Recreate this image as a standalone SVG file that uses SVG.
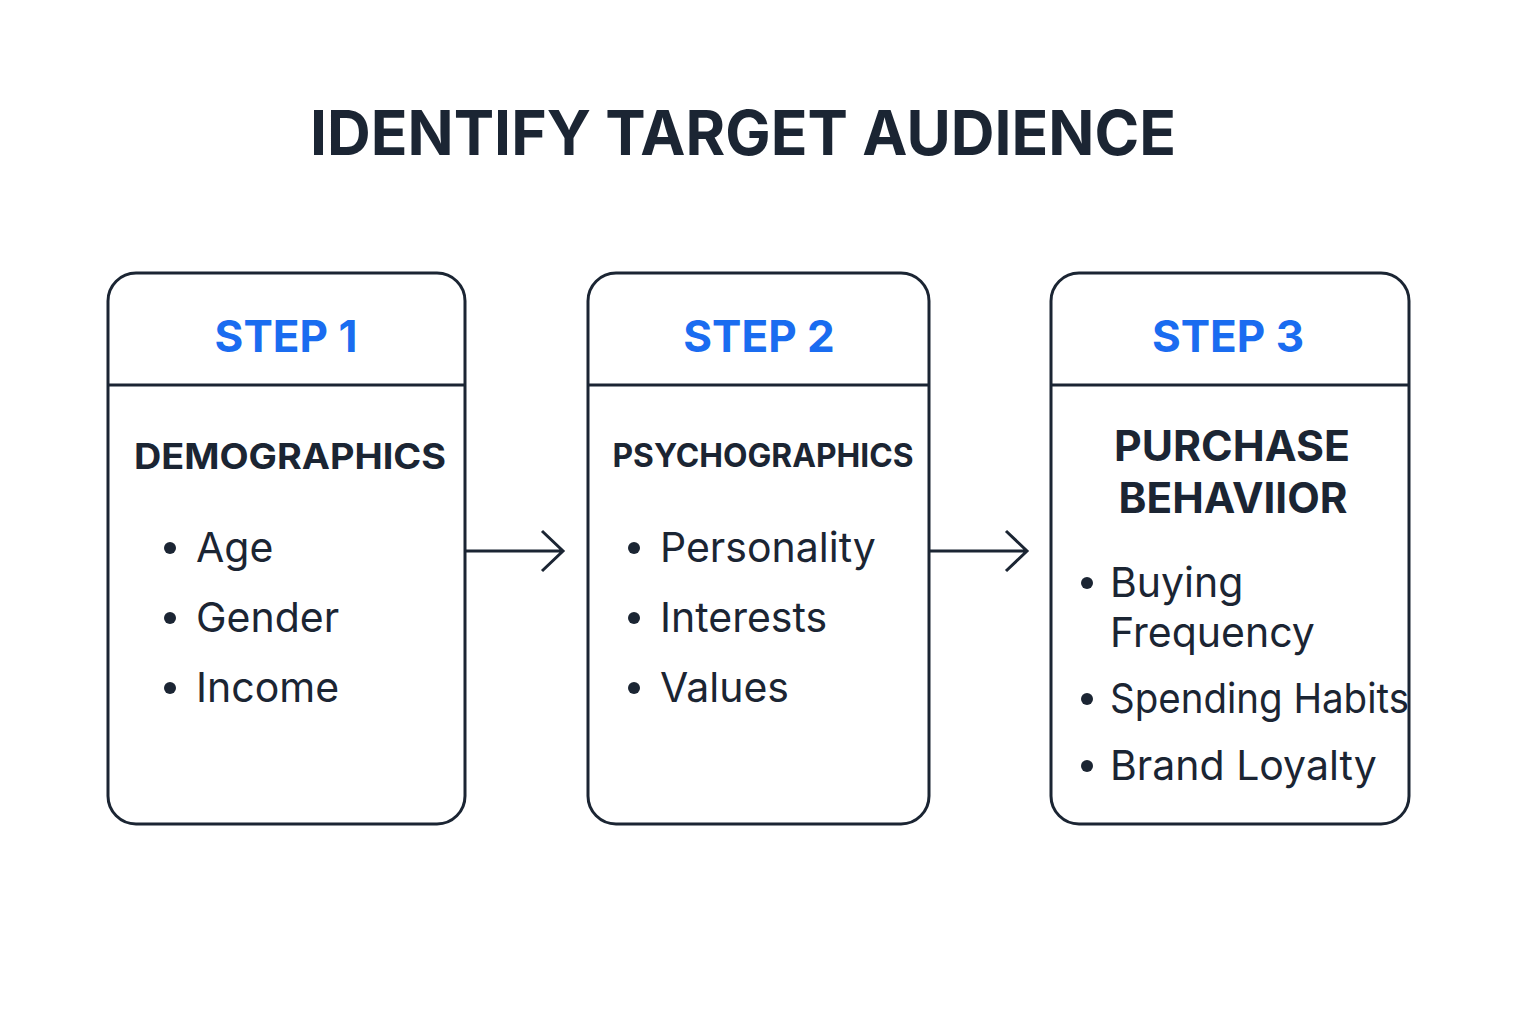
<svg xmlns="http://www.w3.org/2000/svg" width="1536" height="1024" viewBox="0 0 1536 1024">
<style>
.box{fill:#fff;stroke:#1b2533;stroke-width:3}
.div{stroke:#1b2533;stroke-width:3}
.title{font-family:Inter,"Liberation Sans",sans-serif;font-weight:700;fill:#1b2533}
.step{font-family:Inter,"Liberation Sans",sans-serif;font-weight:700;fill:#1a6cf0;font-size:44px}
.head{font-family:Inter,"Liberation Sans",sans-serif;font-weight:700;fill:#1b2533}
.item{font-family:Inter,"Liberation Sans",sans-serif;font-weight:400;fill:#1b2533;font-size:41px}
.dot{fill:#1b2533}
.conn{stroke:#1b2533;stroke-width:3;fill:none}
</style>
<rect width="1536" height="1024" fill="#fff"/>
<text class="title" x="743" y="155" text-anchor="middle" font-size="62" textLength="866" lengthAdjust="spacingAndGlyphs">IDENTIFY TARGET AUDIENCE</text>
<g id="node1">
<rect class="box" x="108" y="273" width="357" height="551" rx="28"/>
<line class="div" x1="108" y1="385" x2="465" y2="385"/>
<text class="step" x="286" y="352" text-anchor="middle">STEP 1</text>
<text class="head" x="290" y="469" text-anchor="middle" font-size="35" textLength="312" lengthAdjust="spacingAndGlyphs">DEMOGRAPHICS</text>
<circle class="dot" cx="170" cy="548" r="6"/><text class="item" x="196" y="562">Age</text>
<circle class="dot" cx="170" cy="618" r="6"/><text class="item" x="196" y="632">Gender</text>
<circle class="dot" cx="170" cy="688" r="6"/><text class="item" x="196" y="702">Income</text>
</g>
<g id="node2">
<rect class="box" x="588" y="273" width="341" height="551" rx="28"/>
<line class="div" x1="588" y1="385" x2="929" y2="385"/>
<text class="step" x="759" y="352" text-anchor="middle">STEP 2</text>
<text class="head" x="763" y="467" text-anchor="middle" font-size="32" textLength="301" lengthAdjust="spacingAndGlyphs">PSYCHOGRAPHICS</text>
<circle class="dot" cx="634" cy="548" r="6"/><text class="item" x="660" y="562">Personality</text>
<circle class="dot" cx="634" cy="618" r="6"/><text class="item" x="660" y="632">Interests</text>
<circle class="dot" cx="634" cy="688" r="6"/><text class="item" x="660" y="702">Values</text>
</g>
<g id="node3">
<rect class="box" x="1051" y="273" width="358" height="551" rx="28"/>
<line class="div" x1="1051" y1="385" x2="1409" y2="385"/>
<text class="step" x="1228" y="352" text-anchor="middle">STEP 3</text>
<text class="head" x="1232" y="461" text-anchor="middle" font-size="42" textLength="236" lengthAdjust="spacingAndGlyphs">PURCHASE</text>
<text class="head" x="1233" y="513" text-anchor="middle" font-size="42" textLength="229" lengthAdjust="spacingAndGlyphs">BEHAVIIOR</text>
<circle class="dot" cx="1087" cy="583" r="6"/><text class="item" x="1110" y="597">Buying</text>
<text class="item" x="1110" y="647">Frequency</text>
<circle class="dot" cx="1087" cy="699" r="6"/><text class="item" x="1110" y="713" textLength="299" lengthAdjust="spacingAndGlyphs">Spending Habits</text>
<circle class="dot" cx="1087" cy="766" r="6"/><text class="item" x="1110" y="780">Brand Loyalty</text>
</g>
<g id="connectors">
<path class="conn" d="M466 551 H563 M542 531 L563 551 L542 571"/>
<path class="conn" d="M930 551 H1027 M1006 531 L1027 551 L1006 571"/>
</g>
</svg>
